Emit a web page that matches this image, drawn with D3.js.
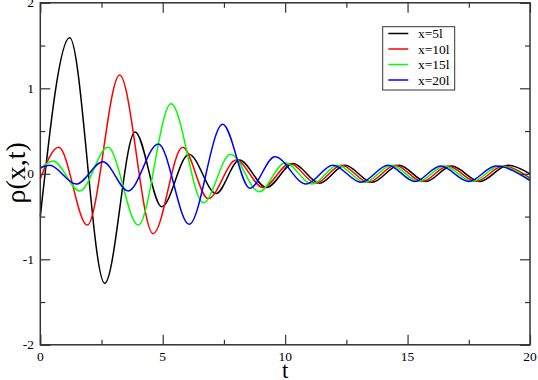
<!DOCTYPE html>
<html>
<head>
<meta charset="utf-8">
<script src="https://cdn.jsdelivr.net/npm/d3@7"></script>
<style>
  body { margin: 0; background: #fff; }
  text { font-family: 'Liberation Serif', 'Times New Roman', serif; fill: #000; }
</style>
</head>
<body>
<svg id="chart" width="538" height="380"></svg>
<script>
// extrema, [t, rho]
var series5 = [[0, -0.5], [1.2, 1.59], [2.63, -1.28], [3.87, 0.49], [4.96, -0.385], [6.07, 0.23], [7.18, -0.23],
  [8.13, 0.16], [9.24, -0.16], [10.33, 0.12], [11.4, -0.11], [12.45, 0.1], [13.55, -0.1], [14.65, 0.1],
  [15.75, -0.09], [16.8, 0.09], [17.95, -0.09], [19.1, 0.1], [20, 0.0]];
var series10 = [[0, -0.06], [0.75, 0.31], [1.92, -0.6], [3.24, 1.155], [4.61, -0.7], [5.81, 0.31], [6.86, -0.29],
  [8.0, 0.16], [9.1, -0.16], [10.2, 0.12], [11.25, -0.11], [12.3, 0.1], [13.4, -0.1], [14.5, 0.1],
  [15.6, -0.09], [16.65, 0.09], [17.8, -0.09], [18.9, 0.09], [20, -0.05]];
var series15 = [[0, 0.06], [0.52, 0.15], [1.61, -0.2], [2.76, 0.31], [4.0, -0.6], [5.34, 0.82], [6.66, -0.34],
  [7.77, 0.23], [8.94, -0.21], [10.0, 0.13], [11.1, -0.12], [12.15, 0.1], [13.25, -0.1], [14.35, 0.1],
  [15.45, -0.09], [16.5, 0.09], [17.65, -0.09], [18.75, 0.09], [20, -0.07]];
var series20 = [[0, 0.07], [0.38, 0.1], [1.47, -0.12], [2.56, 0.14], [3.59, -0.2], [4.82, 0.35], [6.08, -0.59],
  [7.45, 0.58], [8.56, -0.17], [9.58, 0.2], [10.85, -0.12], [11.95, 0.1], [13.1, -0.1], [14.2, 0.1],
  [15.3, -0.09], [16.35, 0.09], [17.5, -0.09], [18.6, 0.09], [20, -0.08]];

var seriesNames = ['x=5l', 'x=10l', 'x=15l', 'x=20l'];
var seriesColors = ['#000000', '#ff0000', '#00ff00', '#0000ff'];
var seriesData = [series5, series10, series15, series20];

var xTicks = [0, 5, 10, 15, 20];
var xMinor = [2.5, 7.5, 12.5, 17.5];
var yTicks = [-2, -1, 0, 1, 2];
var yMinor = [-1.5, -0.5, 0.5, 1.5];

(function() {
  var svg = d3.select('#chart');

  var x0 = 40.3, x1 = 530, y0 = 2.8, y1 = 344.8;

  var xScale = d3.scaleLinear().domain([0, 20]).range([x0, x1]);
  var yScale = d3.scaleLinear().domain([-2, 2]).range([y1, y0]);

  // curves
  var line = d3.line()
    .x(function(d) { return xScale(d[0]); })
    .y(function(d) { return yScale(d[1]); })
    .curve(d3.curveMonotoneX);

  var plot = svg.append('g');
  seriesData.forEach(function(s, i) {
    plot.append('path')
      .attr('d', line(s))
      .attr('fill', 'none')
      .attr('stroke', seriesColors[i])
      .attr('stroke-width', 1.5);
  });

  // axes with inward ticks on all sides
  function tickAxis(axis, scale, major, minor, transform) {
    var g = svg.append('g').attr('transform', transform);
    g.call(axis(scale).tickValues(major).tickSize(10).tickFormat(''));
    g.append('g').call(axis(scale).tickValues(minor).tickSize(5).tickFormat(''));
    g.selectAll('.domain').remove();
    g.selectAll('line').attr('stroke', '#333').attr('stroke-width', 1.2);
    return g;
  }

  tickAxis(d3.axisTop, xScale, xTicks, xMinor, 'translate(0,' + y1 + ')');
  tickAxis(d3.axisBottom, xScale, xTicks, xMinor, 'translate(0,' + y0 + ')');
  tickAxis(d3.axisRight, yScale, yTicks, yMinor, 'translate(' + x0 + ',0)');
  tickAxis(d3.axisLeft, yScale, yTicks, yMinor, 'translate(' + x1 + ',0)');

  svg.append('rect')
    .attr('x', x0).attr('y', y0)
    .attr('width', x1 - x0).attr('height', y1 - y0)
    .attr('fill', 'none')
    .attr('stroke', '#333')
    .attr('stroke-width', 1.5);

  // tick labels
  svg.selectAll('.xlab').data(xTicks).enter().append('text')
    .attr('x', function(d) { return xScale(d); })
    .attr('y', 361)
    .attr('text-anchor', 'middle')
    .attr('font-size', 13.5)
    .text(function(d) { return d; });

  svg.selectAll('.ylab').data(yTicks).enter().append('text')
    .attr('x', 34)
    .attr('y', function(d) { return yScale(d) + 4.5; })
    .attr('text-anchor', 'end')
    .attr('font-size', 13.5)
    .text(function(d) { return d; });

  // axis titles
  svg.append('text')
    .attr('x', xScale(10))
    .attr('y', 378)
    .attr('text-anchor', 'middle')
    .attr('font-size', 23)
    .text('t');

  svg.append('text')
    .attr('transform', 'translate(25,' + (yScale(0) - 1) + ') rotate(-90)')
    .attr('text-anchor', 'middle')
    .attr('font-size', 28)
    .text('ρ(x,t)');

  // legend
  var legend = svg.append('g');
  legend.append('rect')
    .attr('x', 382.7).attr('y', 26.7)
    .attr('width', 72).attr('height', 63.3)
    .attr('fill', '#fff')
    .attr('stroke', '#333')
    .attr('stroke-width', 1);

  seriesNames.forEach(function(name, i) {
    var y = 33.5 + i * 15.5;
    legend.append('line')
      .attr('x1', 388.3).attr('x2', 408.3)
      .attr('y1', y).attr('y2', y)
      .attr('stroke', seriesColors[i])
      .attr('stroke-width', 1.5);
    legend.append('text')
      .attr('x', 418)
      .attr('y', y + 4.5)
      .attr('font-size', 13.5)
      .text(name);
  });
})();
</script>
</body>
</html>
